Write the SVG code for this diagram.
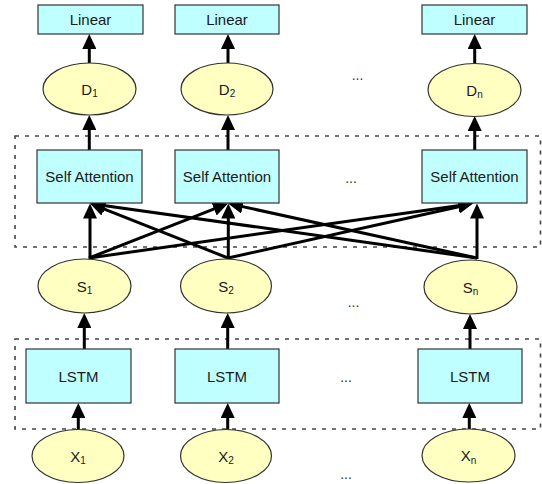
<svg xmlns="http://www.w3.org/2000/svg" width="542" height="484" viewBox="0 0 542 484">
<style>
.box{fill:#C0FFFF;stroke:#333;stroke-width:1.2}
.ell{fill:#FFFFC2;stroke:#333;stroke-width:1.2}
.grp{fill:none;stroke:#444;stroke-width:1.6;stroke-dasharray:4 6}
.t{font-family:"Liberation Sans",Arial,sans-serif;font-size:15px;fill:#1a1a1a;text-anchor:middle}
.e{font-family:"Liberation Sans",Arial,sans-serif;font-size:15px;fill:#1a1a1a;text-anchor:middle}
.sub{font-size:10px}
.dots{font-family:"Liberation Sans",Arial,sans-serif;font-size:14px;fill:#333;text-anchor:middle}
.c{fill:none;stroke:#000;stroke-width:3;marker-end:url(#ah)}
</style>
<defs>
<marker id="ah" viewBox="0 0 15 14" refX="5" refY="7" markerWidth="15" markerHeight="14" markerUnits="userSpaceOnUse" orient="auto">
<path d="M0,0 L15,7 L0,14 z" fill="#000"/>
</marker>
</defs>

<g id="group-attention"><rect class="grp" x="15" y="136" width="525.5" height="111"/></g>
<g id="group-lstm"><rect class="grp" x="15" y="339" width="525.5" height="90"/></g>

<g id="connectors">
<line class="c" x1="89.3" y1="63" x2="89.3" y2="44"/>
<line class="c" x1="228" y1="63" x2="228" y2="44"/>
<line class="c" x1="474.7" y1="64" x2="474.7" y2="44"/>
<line class="c" x1="89.3" y1="150" x2="89.3" y2="125"/>
<line class="c" x1="228" y1="150" x2="228" y2="125"/>
<line class="c" x1="474.7" y1="150" x2="474.7" y2="126"/>
<line class="c" x1="90" y1="259" x2="90" y2="213.5"/>
<line class="c" x1="228.3" y1="259" x2="228.3" y2="213.5"/>
<line class="c" x1="477" y1="259" x2="477" y2="213.5"/>
<line class="c" x1="89" y1="258" x2="218.7" y2="207.2"/>
<line class="c" x1="89" y1="258" x2="463.1" y2="204.9"/>
<line class="c" x1="228" y1="258" x2="99.3" y2="207.2"/>
<line class="c" x1="228" y1="258" x2="463.2" y2="205.7"/>
<line class="c" x1="477" y1="258" x2="99.9" y2="204.9"/>
<line class="c" x1="477" y1="258" x2="237.8" y2="205.6"/>
<line class="c" x1="84.3" y1="349" x2="84.3" y2="323"/>
<line class="c" x1="227.7" y1="349" x2="227.7" y2="323"/>
<line class="c" x1="470" y1="349" x2="470" y2="324"/>
<line class="c" x1="78.3" y1="430" x2="78.3" y2="413"/>
<line class="c" x1="227.7" y1="430" x2="227.7" y2="413"/>
<line class="c" x1="469.3" y1="429" x2="469.3" y2="413"/>
</g>

<g id="linear1"><rect class="box" x="38" y="5" width="105" height="29"/><text class="t" x="90.5" y="25">Linear</text></g>
<g id="linear2"><rect class="box" x="175" y="5" width="104" height="29"/><text class="t" x="227" y="25">Linear</text></g>
<g id="linearn"><rect class="box" x="422" y="5" width="105" height="29"/><text class="t" x="474.5" y="25">Linear</text></g>

<g id="d1"><ellipse class="ell" cx="89.5" cy="89" rx="46.5" ry="26"/><text class="e" x="89.5" y="94.5">D<tspan class="sub" dy="2.5">1</tspan></text></g>
<g id="d2"><ellipse class="ell" cx="227" cy="89" rx="46" ry="26"/><text class="e" x="227" y="94.5">D<tspan class="sub" dy="2.5">2</tspan></text></g>
<g id="dn"><ellipse class="ell" cx="474.5" cy="90" rx="46.5" ry="26.5"/><text class="e" x="474.5" y="95.5">D<tspan class="sub" dy="2.5">n</tspan></text></g>

<g id="sa1"><rect class="box" x="37" y="150" width="105" height="53"/><text class="t" x="89.5" y="182">Self Attention</text></g>
<g id="sa2"><rect class="box" x="175" y="150" width="104" height="53"/><text class="t" x="227" y="182">Self Attention</text></g>
<g id="san"><rect class="box" x="422" y="150" width="105" height="53"/><text class="t" x="474.5" y="182">Self Attention</text></g>

<g id="s1"><ellipse class="ell" cx="84.5" cy="286" rx="46.5" ry="27"/><text class="e" x="84.5" y="291.5">S<tspan class="sub" dy="2.5">1</tspan></text></g>
<g id="s2"><ellipse class="ell" cx="226" cy="286" rx="45.5" ry="27"/><text class="e" x="226" y="291.5">S<tspan class="sub" dy="2.5">2</tspan></text></g>
<g id="sn"><ellipse class="ell" cx="470.5" cy="287" rx="46.5" ry="27"/><text class="e" x="470.5" y="292.5">S<tspan class="sub" dy="2.5">n</tspan></text></g>

<g id="lstm1"><rect class="box" x="26" y="349" width="105" height="54"/><text class="t" x="78.5" y="381.5">LSTM</text></g>
<g id="lstm2"><rect class="box" x="175" y="349" width="104" height="54"/><text class="t" x="227" y="381.5">LSTM</text></g>
<g id="lstmn"><rect class="box" x="418" y="349" width="104" height="54"/><text class="t" x="470" y="381.5">LSTM</text></g>

<g id="x1"><ellipse class="ell" cx="78" cy="456" rx="46" ry="26.5"/><text class="e" x="78" y="461.5">X<tspan class="sub" dy="2.5">1</tspan></text></g>
<g id="x2"><ellipse class="ell" cx="226" cy="456" rx="45.5" ry="26.5"/><text class="e" x="226" y="461.5">X<tspan class="sub" dy="2.5">2</tspan></text></g>
<g id="xn"><ellipse class="ell" cx="468.5" cy="455.5" rx="46.5" ry="26.5"/><text class="e" x="468.5" y="461">X<tspan class="sub" dy="2.5">n</tspan></text></g>

<g id="ellipsis">
<text class="dots" x="357.5" y="80">...</text>
<text class="dots" x="351" y="183">...</text>
<text class="dots" x="353.5" y="306.5">...</text>
<text class="dots" x="346" y="381.5">...</text>
<text class="dots" x="346" y="478.5">...</text>
</g>
</svg>
